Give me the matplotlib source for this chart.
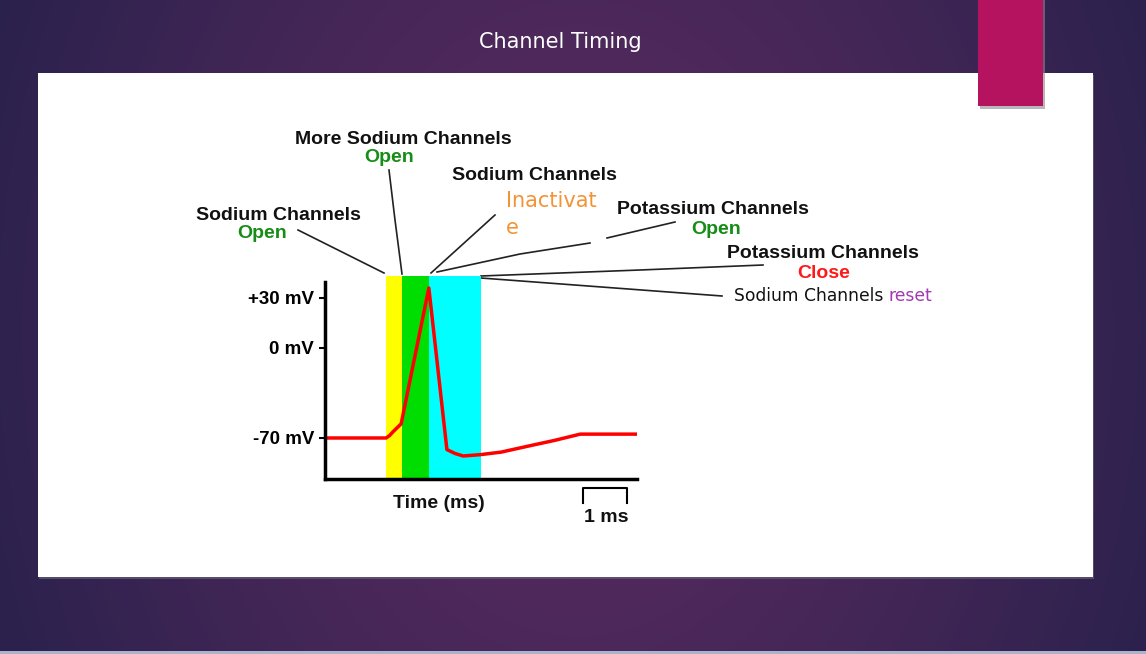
import numpy as np
import matplotlib.pyplot as plt
from matplotlib.patches import Rectangle

# membrane potential trace (time in ms, potential in mV)
t_ms = [0.0, 1.39, 1.47, 1.55, 1.73, 2.36, 2.77, 2.95, 3.14, 3.52, 4.0, 4.66, 5.2, 5.8, 7.09]
v_mv = [-70, -70, -68, -65, -59, 36, -79, -82, -84, -83, -81, -76, -72, -67, -67]

# channel phases (start/end in ms) and colours
phase_edges = [1.39, 1.75, 2.36, 3.55]
phase_colors = ["#ffff00", "#00dd00", "#00ffff"]

tick_vals = [30, 0, -70]
tick_labels = ["+30 mV", "0 mV", "-70 mV"]

W, H = 1146, 654
fig = plt.figure(figsize=(W / 100, H / 100), dpi=100)

# slide background in pixel coordinates
bg = fig.add_axes([0, 0, 1, 1], zorder=0)
bg.set_xlim(0, W)
bg.set_ylim(H, 0)
bg.axis("off")

xx, yy = np.meshgrid(np.arange(W), np.arange(H))
d = np.sqrt(((xx - 580) / 680) ** 2 + ((yy - 330) / 900) ** 2)
d = np.clip(d, 0, 1)[..., None] ** 1.3
center = np.array([0x5a, 0x2b, 0x60]) / 255
edge = np.array([0x25, 0x20, 0x4a]) / 255
img = center * (1 - d) + edge * d
bg.imshow(img, extent=(0, W, H, 0), aspect="auto", interpolation="bilinear")

bg.add_patch(Rectangle((0, 651), W, 3, color="#a9b3ca", lw=0))
bg.add_patch(Rectangle((39, 75), 1055, 504, color="#6a6a7a", lw=0, alpha=0.6))
bg.add_patch(Rectangle((38, 73), 1055, 504, color="white", lw=0))
bg.add_patch(Rectangle((980, 0), 65, 109, color="#8a8a8a", lw=0, alpha=0.6))
bg.add_patch(Rectangle((978, 0), 65, 106, color="#b5135f", lw=0))

bg.text(560, 42, "Channel Timing", color="white", fontsize=15,
        ha="center", va="center", family="DejaVu Sans")

bold = dict(family="Liberation Sans", fontweight="bold", fontsize=14, ha="center", va="center")
green = "#178c17"

bg.text(403, 140, "More Sodium Channels", color="#111111", **bold)
bg.text(389, 158, "Open", color=green, **bold)
bg.text(534, 175, "Sodium Channels", color="#111111", **bold)
bg.text(506, 201, "Inactivat", color="#f39335", fontsize=15, ha="left", va="center", family="DejaVu Sans")
bg.text(506, 228, "e", color="#f39335", fontsize=15, ha="left", va="center", family="DejaVu Sans")
bg.text(278, 216, "Sodium Channels", color="#111111", **bold)
bg.text(262, 233, "Open", color=green, **bold)
bg.text(713, 210, "Potassium Channels", color="#111111", **bold)
bg.text(716, 230, "Open", color=green, **bold)
bg.text(823, 254, "Potassium Channels", color="#111111", **bold)
bg.text(824, 273, "Close", color="#ff1a1a", **bold)
t1 = bg.text(734, 296, "Sodium Channels ", color="#111111", fontsize=12.3,
             ha="left", va="center", family="DejaVu Sans")
bg.annotate("reset", xycoords=t1, xy=(1, 0.5), va="center", ha="left",
            color="#a23ab3", fontsize=12.3, family="DejaVu Sans")

# leader lines
leaders = [
    ([298, 384], [230, 273]),
    ([389, 395, 402], [170, 220, 274]),
    ([495, 431], [215, 273]),
    ([437, 520, 590], [272, 254, 243]),
    ([607, 675], [238, 222]),
    ([481, 640, 763], [276, 270, 265]),
    ([481, 722], [278, 296]),
]
for lx, ly in leaders:
    bg.plot(lx, ly, color="#222222", lw=1.2)

# scale bar
bg.plot([583, 583, 627, 627], [503, 488, 488, 503], color="black", lw=1.5)
bg.text(606, 518, "1 ms", color="#111111", **bold)
bg.text(439, 504, "Time (ms)", color="#111111", **bold)


# piecewise linear potential axis as in the original figure
def fwd(v):
    v = np.asarray(v, dtype=float)
    return np.where(v < 0, v * 90 / 70, v * 50 / 30)


def inv(u):
    u = np.asarray(u, dtype=float)
    return np.where(u < 0, u * 70 / 90, u * 30 / 50)


ax = fig.add_axes([325 / W, 1 - 479 / H, (637 - 325) / W, (479 - 276) / H], zorder=1)
ax.patch.set_alpha(0)
ax.set_yscale("function", functions=(fwd, inv))
ax.set_xlim(0, 7.09)
ax.set_ylim(-101.9, 43.2)

for (a, b), c in zip(zip(phase_edges[:-1], phase_edges[1:]), phase_colors):
    ax.axvspan(a, b, color=c, lw=0, zorder=1)
ax.plot(t_ms, v_mv, color="#ff0000", lw=2.5, zorder=3)

for s in ["top", "right"]:
    ax.spines[s].set_visible(False)
for s in ["left", "bottom"]:
    ax.spines[s].set_linewidth(2.5)
    ax.spines[s].set_zorder(4)
ax.spines["left"].set_bounds(-101.9, 39.6)

ax.set_xticks([])
ax.set_yticks(tick_vals)
ax.set_yticklabels(tick_labels, family="Liberation Sans", fontweight="bold", fontsize=13.5)
ax.yaxis.set_minor_locator(plt.NullLocator())
ax.tick_params(axis="y", length=4, width=1.5, pad=4)

fig.savefig("out.png", dpi=100)
